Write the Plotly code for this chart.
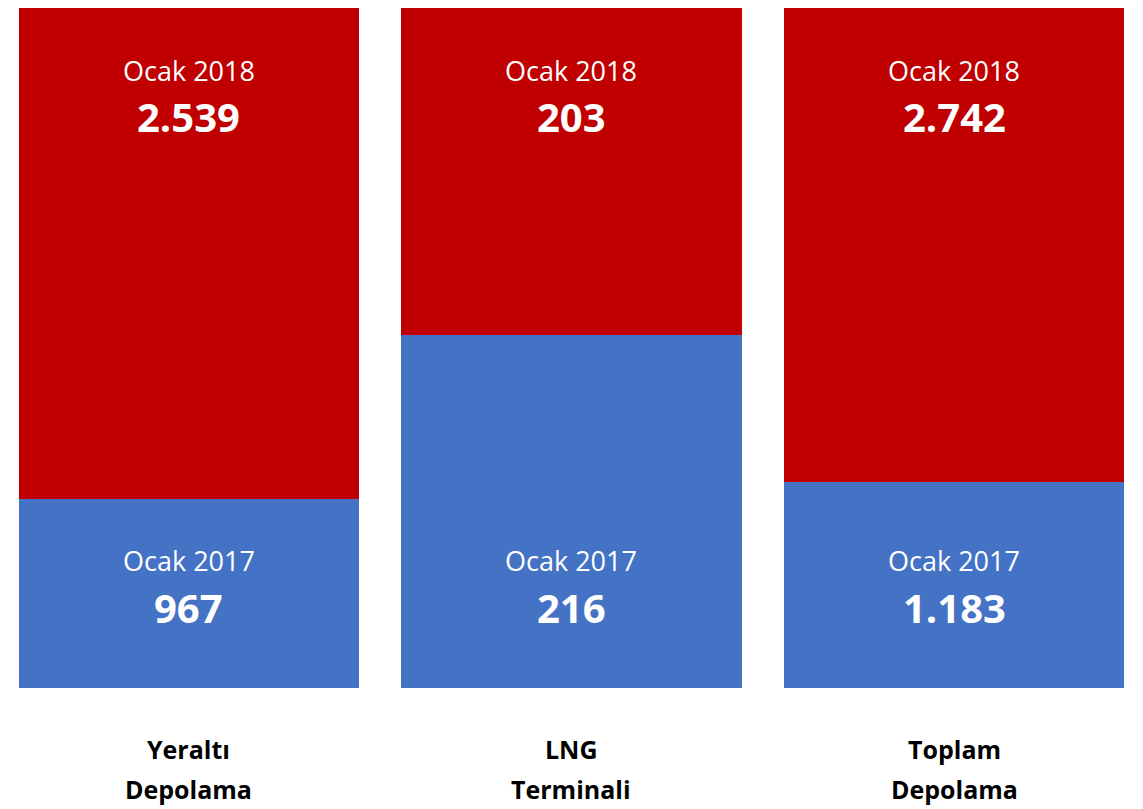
import plotly.graph_objects as go

categories = ["Yeraltı Depolama", "LNG Terminali", "Toplam Depolama"]
label_lines = [["Yeraltı", "Depolama"], ["LNG", "Terminali"], ["Toplam", "Depolama"]]
values_2017 = [967, 216, 1183]
values_2018 = [2539, 203, 2742]
name_2017 = "Ocak 2017"
name_2018 = "Ocak 2018"

BLUE = "#4472C4"
RED = "#C00000"
FONT = "Open Sans"


def tr(v):
    return f"{v:,}".replace(",", ".")


fig = go.Figure()
fig.add_bar(x=[0, 1, 2], y=values_2017, name=name_2017, marker_color=BLUE,
            marker_line_width=0, hoverinfo="skip")
fig.add_bar(x=[0, 1, 2], y=values_2018, name=name_2018, marker_color=RED,
            marker_line_width=0, hoverinfo="skip")

# labels sit at fixed heights in each bar (percent scale)
for i, (v17, v18, lines) in enumerate(zip(values_2017, values_2018, label_lines)):
    fig.add_annotation(x=i, y=90.35, text=name_2018, showarrow=False,
                       font=dict(size=27, color="white", family=FONT))
    fig.add_annotation(x=i, y=83.6, text=f"<b>{tr(v18)}</b>", showarrow=False,
                       font=dict(size=40, color="white", family=FONT))
    fig.add_annotation(x=i, y=18.57, text=name_2017, showarrow=False,
                       font=dict(size=27, color="white", family=FONT))
    fig.add_annotation(x=i, y=11.84, text=f"<b>{tr(v17)}</b>", showarrow=False,
                       font=dict(size=40, color="white", family=FONT))
    fig.add_annotation(x=i, y=-0.1177, yref="paper", text=f"<b>{lines[0]}</b>",
                       showarrow=False, font=dict(size=25, color="black", family=FONT))
    fig.add_annotation(x=i, y=-0.1765, yref="paper", text=f"<b>{lines[1]}</b>",
                       showarrow=False, font=dict(size=25, color="black", family=FONT))

fig.update_layout(
    barmode="stack",
    barnorm="percent",
    bargap=0.111,
    width=1143,
    height=809,
    margin=dict(l=0, r=0, t=0, b=129),
    plot_bgcolor="white",
    paper_bgcolor="white",
    showlegend=False,
    font=dict(family=FONT),
)
fig.update_xaxes(showticklabels=False, showgrid=False, zeroline=False,
                 range=[-0.473, 2.515])
fig.update_yaxes(visible=False, range=[0, 99.42], showgrid=False)

fig.write_html("out.html")
